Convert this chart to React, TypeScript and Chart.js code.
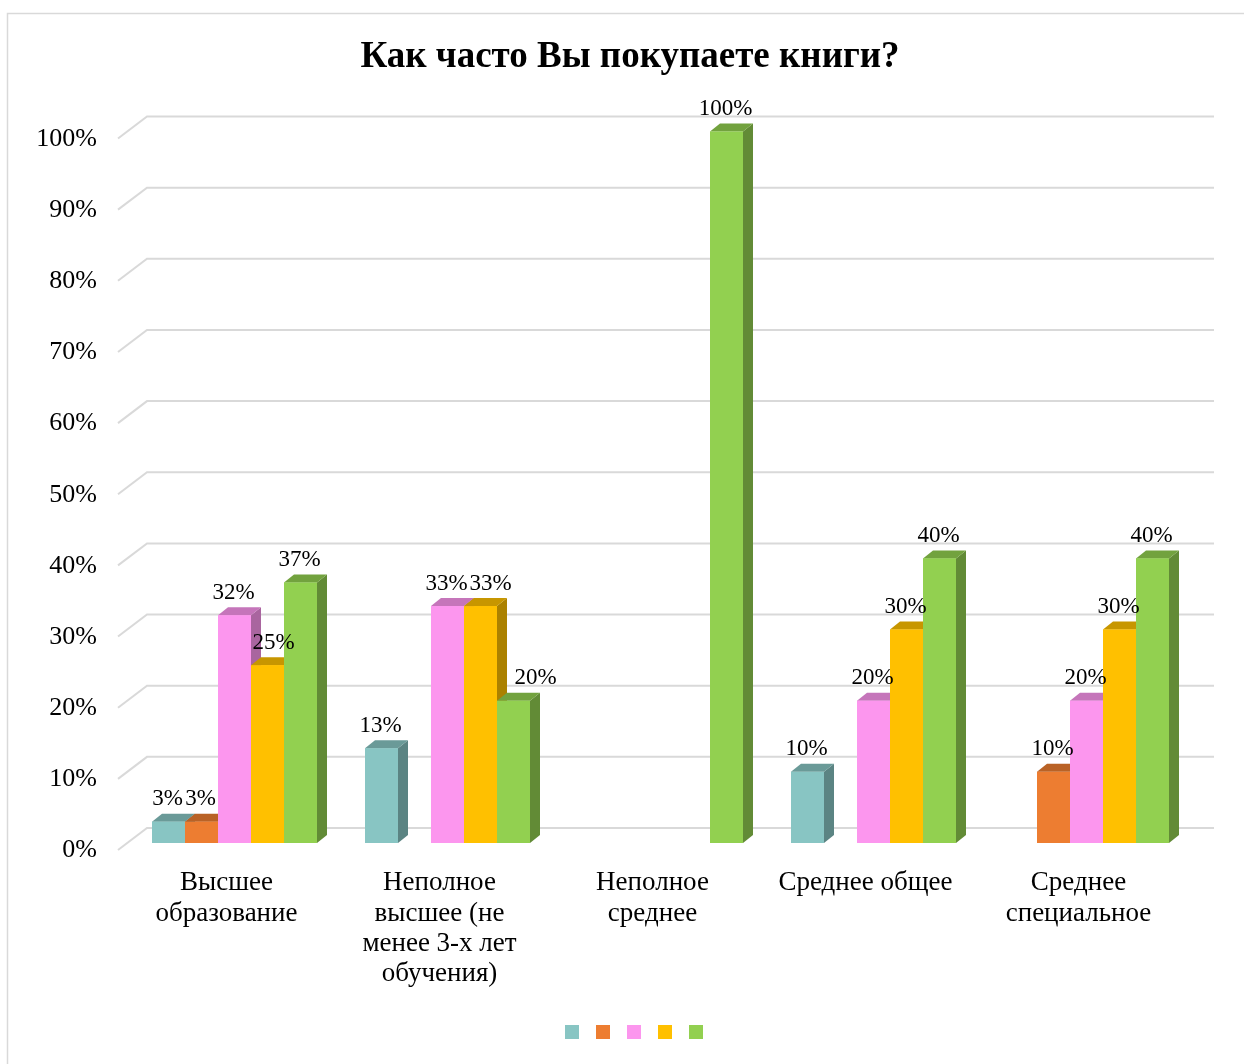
import React, { useEffect, useRef } from "react";
import { Chart, registerables } from "chart.js";

Chart.register(...registerables);

const TITLE = "Как часто Вы покупаете книги?";
const categories: string[][] = [
  ["Высшее", "образование"],
  ["Неполное", "высшее (не", "менее 3-х лет", "обучения)"],
  ["Неполное", "среднее"],
  ["Среднее общее"],
  ["Среднее", "специальное"],
];
const seriesNames = ["", "", "", "", ""];
const tealValues = [3, 13.3, null, 10, null];
const orangeValues = [3, null, null, null, 10];
const pinkValues = [32, 33.3, null, 20, 20];
const yellowValues = [25, 33.3, null, 30, 30];
const greenValues = [36.6, 20, 100, 40, 40];
const seriesColors = ["#88C5C3", "#ED7D31", "#FC96EE", "#FFC000", "#92D050"];
const yTickValues = [0, 10, 20, 30, 40, 50, 60, 70, 80, 90, 100];

const SERIF = '"Liberation Serif", "Times New Roman", serif';
const DX = 10;
const DY = 8;
// manual nudges of a few data labels (dataset,category -> px), as in the original layout
const LABEL_NUDGE: Record<string, number> = { "3,0": 7, "3,1": 11, "4,1": 23 };

function shade(hex: string, f: number) {
  const n = parseInt(hex.slice(1), 16);
  const r = Math.round(((n >> 16) & 255) * f);
  const g = Math.round(((n >> 8) & 255) * f);
  const b = Math.round((n & 255) * f);
  return `rgb(${r},${g},${b})`;
}

const decorPlugin = {
  id: "decor3d",
  beforeDraw(chart: any) {
    const ctx = chart.ctx;
    ctx.save();
    ctx.fillStyle = "#ffffff";
    ctx.fillRect(0, 0, chart.width, chart.height);
    ctx.strokeStyle = "#d9d9d9";
    ctx.lineWidth = 1.5;
    ctx.strokeRect(7.5, 13.5, chart.width + 10, chart.height + 10);
    ctx.fillStyle = "#000000";
    ctx.font = `bold 37px ${SERIF}`;
    ctx.textAlign = "center";
    ctx.textBaseline = "middle";
    ctx.fillText(TITLE, 630, 57);
    ctx.restore();
  },
  beforeDatasetsDraw(chart: any) {
    const ctx = chart.ctx;
    const area = chart.chartArea;
    const ys = chart.scales.y;
    ctx.save();
    ctx.strokeStyle = "#d9d9d9";
    ctx.lineWidth = 2;
    for (const v of yTickValues) {
      const yb = ys.getPixelForValue(v);
      ctx.beginPath();
      ctx.moveTo(area.left - 10, yb + 7);
      ctx.lineTo(area.left + 19, yb - 15);
      ctx.lineTo(area.right + 21, yb - 15);
      ctx.stroke();
    }
    ctx.restore();
  },
  afterDatasetsDraw(chart: any) {
    const ctx = chart.ctx;
    const datasets = chart.data.datasets;
    ctx.save();
    const labels: { x: number; y: number; t: string }[] = [];
    for (let c = 0; c < categories.length; c++) {
      for (let d = 0; d < datasets.length; d++) {
        const v = datasets[d].data[c];
        if (v === null || v === undefined || v === 0) continue;
        const el = chart.getDatasetMeta(d).data[c];
        const { x, y, base, width } = el.getProps(["x", "y", "base", "width"], true);
        const l = x - width / 2;
        const r = x + width / 2;
        const col = seriesColors[d];
        ctx.fillStyle = shade(col, 0.67);
        ctx.beginPath();
        ctx.moveTo(r, y);
        ctx.lineTo(r + DX, y - DY);
        ctx.lineTo(r + DX, base - DY);
        ctx.lineTo(r, base);
        ctx.closePath();
        ctx.fill();
        ctx.fillStyle = shade(col, 0.78);
        ctx.beginPath();
        ctx.moveTo(l, y);
        ctx.lineTo(l + DX, y - DY);
        ctx.lineTo(r + DX, y - DY);
        ctx.lineTo(r, y);
        ctx.closePath();
        ctx.fill();
        ctx.fillStyle = col;
        ctx.fillRect(l, y, width, base - y);
        const nudge = LABEL_NUDGE[d + "," + c] || 0;
        labels.push({ x: x - 1 + nudge, y: y - 22.5, t: Math.round(v) + "%" });
      }
    }
    ctx.fillStyle = "#000000";
    ctx.font = `23px ${SERIF}`;
    ctx.textAlign = "center";
    ctx.textBaseline = "middle";
    for (const lb of labels) ctx.fillText(lb.t, lb.x, lb.y);
    const size = 14;
    const gap = 31;
    const cx = 634;
    const cy = 1032;
    for (let i = 0; i < datasets.length; i++) {
      const sx = cx + (i - (datasets.length - 1) / 2) * gap;
      ctx.fillStyle = seriesColors[i];
      ctx.fillRect(sx - size / 2, cy - size / 2, size, size);
    }
    ctx.restore();
  },
};

export default function App() {
  const ref = useRef<HTMLCanvasElement | null>(null);
  useEffect(() => {
    document.body.style.margin = "0";
    const canvas = ref.current;
    if (!canvas) return;
    const allSeries = [tealValues, orangeValues, pinkValues, yellowValues, greenValues];
    const chart = new Chart(canvas, {
      type: "bar",
      data: {
        labels: categories,
        datasets: allSeries.map((vals, i) => ({
          label: seriesNames[i],
          data: vals,
          backgroundColor: seriesColors[i],
          borderWidth: 0,
          barPercentage: 1,
          categoryPercentage: 165 / 213,
        })),
      },
      options: {
        animation: false,
        responsive: false,
        devicePixelRatio: 1,
        layout: { padding: { left: 0, top: 131.5, right: 51, bottom: 0 } },
        plugins: {
          legend: { display: false },
          title: { display: false },
          tooltip: { enabled: false },
        },
        scales: {
          x: {
            grid: { display: false, drawTicks: false },
            border: { display: false },
            ticks: {
              color: "#000000",
              font: { family: SERIF, size: 27, lineHeight: 1.125 },
              padding: 25,
              labelOffset: -8,
              maxRotation: 0,
              autoSkip: false,
            },
            afterFit: (s: any) => {
              s.height = 221;
            },
          },
          y: {
            min: 0,
            max: 100,
            grid: { display: false, drawTicks: false },
            border: { display: false },
            ticks: {
              stepSize: 10,
              color: "#000000",
              font: { family: SERIF, size: 26 },
              padding: 31,
              labelOffset: 7.5,
              callback: (v: any) => v + "%",
            },
            afterFit: (s: any) => {
              s.width = 128;
            },
          },
        },
      },
      plugins: [decorPlugin],
    });
    return () => chart.destroy();
  }, []);
  return (
    <div style={{ width: 1244, height: 1064 }}>
      <canvas ref={ref} width={1244} height={1064} style={{ display: "block" }} />
    </div>
  );
}
